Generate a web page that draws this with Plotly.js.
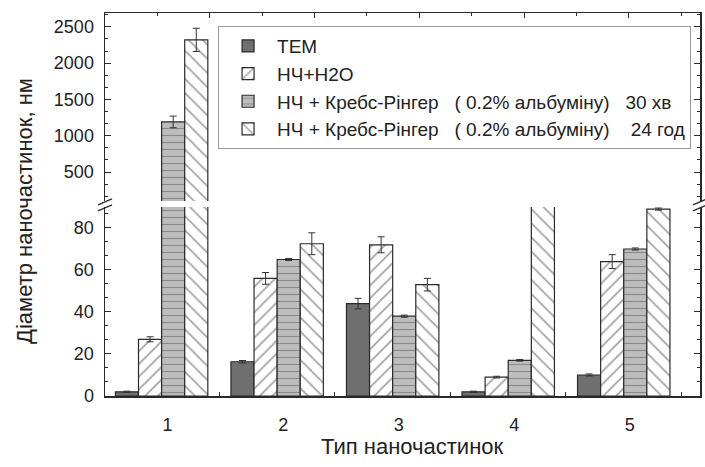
<!DOCTYPE html>
<html>
<head>
<meta charset="utf-8">
<script src="https://cdn.plot.ly/plotly-3.0.1.min.js"></script>
<style>html,body{margin:0;padding:0;background:#fff;}#chart{width:705px;height:467px;}</style>
</head>
<body>
<div id="chart"></div>
<script>
// ---- data ----
const categories = [1, 2, 3, 4, 5];
const tickLabels = ['1', '2', '3', '4', '5'];
const seriesNames = [
  'TEM',
  'НЧ+H2O',
  'НЧ + Кребс-Рінгер\u00a0\u00a0\u00a0( 0.2% альбуміну)\u00a0\u00a0\u00a030 хв',
  'НЧ + Кребс-Рінгер\u00a0\u00a0\u00a0( 0.2% альбуміну)\u00a0\u00a0\u00a0\u00a024 год'
];
const temValues = [2, 16.3, 44, 2, 10];
const temErrors = [0.3, 0.6, 2.5, 0.3, 0.5];
const h2oValues = [27, 56, 72, 9, 64];
const h2oErrors = [1.2, 2.8, 3.8, 0.4, 3.3];
const krebs30Values = [1190, 65, 38, 17, 70];
const krebs30Errors = [80, 0.5, 0.5, 0.4, 0.5];
const krebs24Values = [2320, 72.5, 53, 92, 89];
const krebs24Errors = [160, 5.2, 3, 0.8, 0.5];
const lowerTicks = [0, 20, 40, 60, 80];
const upperTicks = [500, 1000, 1500, 2000, 2500];

// ---- styles ----
const ink = '#2a2a2a';
const styles = [
  {color: '#6f6f6f', pattern: {shape: ''}},
  {color: '#ffffff', pattern: {shape: '/', fgcolor: '#4a4a4a', bgcolor: '#ffffff', size: 9, solidity: 0.2, fillmode: 'overlay'}},
  {color: '#bdbdbd', pattern: {shape: '-', fgcolor: '#555555', bgcolor: '#bdbdbd', size: 7, solidity: 0.16, fillmode: 'overlay'}},
  {color: '#ffffff', pattern: {shape: '\\', fgcolor: '#4a4a4a', bgcolor: '#ffffff', size: 10, solidity: 0.18, fillmode: 'overlay'}}
];
const values = [temValues, h2oValues, krebs30Values, krebs24Values];
const errors = [temErrors, h2oErrors, krebs30Errors, krebs24Errors];

const traces = [];
['y', 'y2'].forEach(function (ya, k) {
  values.forEach(function (v, i) {
    traces.push({
      type: 'bar',
      x: categories,
      y: v,
      name: seriesNames[i],
      legendgroup: 's' + i,
      showlegend: k === 0,
      xaxis: 'x',
      yaxis: ya,
      marker: {color: styles[i].color, pattern: styles[i].pattern, line: {color: ink, width: 1.2}},
      error_y: {type: 'data', array: errors[i], visible: true, color: '#333', thickness: 1, width: 3.5},
      hoverinfo: 'x+y'
    });
  });
});
// empty trace to hold the top frame axis
traces.push({type: 'scatter', x: [], y: [], xaxis: 'x2', yaxis: 'y2', showlegend: false, hoverinfo: 'skip'});

const fontFam = 'Arial, "Liberation Sans", sans-serif';
const breakY = 0.5015;
function brk(xa) {
  return [
    {type: 'line', xref: 'paper', yref: 'paper', xsizemode: 'pixel', ysizemode: 'pixel', xanchor: xa, yanchor: breakY, x0: -7, x1: 7, y0: -7, y1: -1, line: {color: ink, width: 1.3}},
    {type: 'line', xref: 'paper', yref: 'paper', xsizemode: 'pixel', ysizemode: 'pixel', xanchor: xa, yanchor: breakY, x0: -7, x1: 7, y0: -1, y1: 5, line: {color: ink, width: 1.3}}
  ];
}

const layout = {
  width: 705, height: 467,
  margin: {l: 105, r: 5, t: 13, b: 71},
  paper_bgcolor: '#fff', plot_bgcolor: '#fff',
  font: {family: fontFam, color: '#222', size: 18},
  barmode: 'group', bargap: 0.2, bargroupgap: 0,
  showlegend: true,
  legend: {x: 0.19, y: 0.966, xanchor: 'left', yanchor: 'top', font: {size: 19, family: fontFam, color: '#222'},
           bgcolor: '#fff', bordercolor: '#999', borderwidth: 1, traceorder: 'normal', itemwidth: 48},
  xaxis: {
    domain: [0, 1], anchor: 'y', range: [0.51, 5.66],
    tickmode: 'array', tickvals: categories, ticktext: tickLabels,
    ticks: 'inside', ticklen: 0, ticklabelshift: 6, ticklabelstandoff: 12,
    minor: {ticks: 'inside', ticklen: 4, tick0: 0.5, dtick: 1, tickcolor: ink, showgrid: false},
    showline: true, linecolor: ink, linewidth: 1.5, mirror: false,
    showgrid: false, zeroline: false, tickfont: {size: 18}
  },
  xaxis2: {
    overlaying: 'x', anchor: 'y2', side: 'top', range: [0, 5.678],
    tick0: 0, dtick: 1, ticks: 'inside', ticklen: 5, tickcolor: ink, showticklabels: false,
    minor: {ticks: 'inside', ticklen: 3, dtick: 0.5, tick0: 0, tickcolor: ink, showgrid: false},
    showline: true, linecolor: ink, linewidth: 1.5, showgrid: false, zeroline: false
  },
  yaxis: {
    domain: [0, 0.4935], anchor: 'x', range: [0, 90],
    tickmode: 'array', tickvals: lowerTicks,
    ticks: 'inside', ticklen: 6, tickcolor: ink,
    minor: {ticks: 'inside', ticklen: 3, tick0: 0, dtick: 20 / 3, tickcolor: ink, showgrid: false},
    showline: true, linecolor: ink, linewidth: 1.5, mirror: 'ticks',
    showgrid: false, zeroline: false, tickfont: {size: 18}, ticklabelstandoff: 6
  },
  yaxis2: {
    domain: [0.509, 1], anchor: 'x', range: [100, 2690],
    tickmode: 'array', tickvals: upperTicks,
    ticks: 'inside', ticklen: 6, tickcolor: ink,
    minor: {ticks: 'inside', ticklen: 3, tick0: 0, dtick: 500 / 3, tickcolor: ink, showgrid: false},
    showline: true, linecolor: ink, linewidth: 1.5, mirror: 'ticks',
    showgrid: false, zeroline: false, tickfont: {size: 18}, ticklabelstandoff: 6
  },
  shapes: brk(0).concat(brk(1)),
  annotations: [{
    text: 'Діаметр наночастинок, нм', xref: 'paper', yref: 'paper', x: 0, y: 0.483,
    xshift: -81, xanchor: 'center', yanchor: 'middle', textangle: -90, showarrow: false,
    font: {size: 22, family: fontFam, color: '#222'}
  }, {
    text: 'Тип наночастинок', xref: 'paper', yref: 'paper', x: 0.516, y: 0,
    yshift: -50, xanchor: 'center', yanchor: 'middle', showarrow: false,
    font: {size: 22, family: fontFam, color: '#222'}
  }]
};

Plotly.newPlot('chart', traces, layout, {displayModeBar: false, staticPlot: true});
</script>
</body>
</html>
